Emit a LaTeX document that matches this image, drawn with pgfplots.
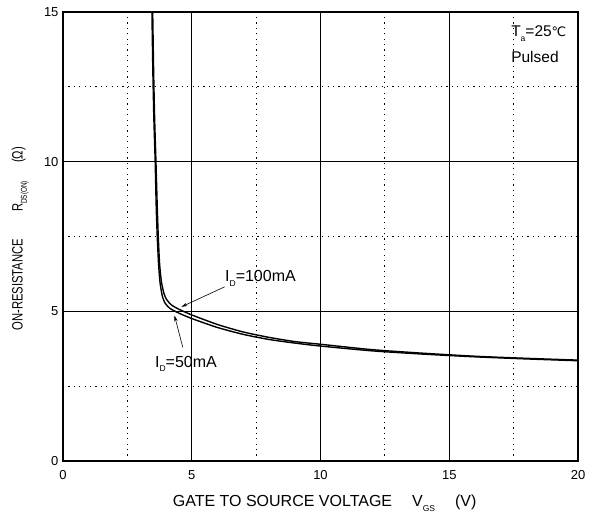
\documentclass[border=0pt]{standalone}
\usepackage{fontspec}
\setmainfont{Liberation Sans}
\newfontfamily\dejavu{DejaVu Sans}
\usepackage{pgfplots}
\pgfplotsset{compat=1.18}
\usetikzlibrary{arrows.meta}

\newcommand{\sub}[1]{\raisebox{-0.55ex}{\fontsize{8.5}{9}\selectfont #1}}

\begin{document}
\begin{tikzpicture}
\begin{axis}[
    scale only axis,
    width=515pt, height=449pt,
    xmin=0, xmax=20, ymin=0, ymax=15,
    xtick={0,5,10,15,20}, ytick={0,5,10,15},
    minor xtick={2.5,7.5,12.5,17.5}, minor ytick={2.5,7.5,12.5},
    grid=both,
    major grid style={black, line width=0.9pt},
    minor grid style={black, line width=1pt, dash pattern=on 1.2pt off 4.2pt},
    major tick length=0pt, minor tick length=0pt,
    axis line style={line width=1.2pt},
    tick label style={font=\fontsize{13}{15}\selectfont},
    /pgf/number format/assume math mode=true,
    xticklabel style={yshift=-6pt},
    yticklabel style={xshift=-1pt},
    xlabel={GATE TO SOURCE VOLTAGE\hspace{20pt}V\sub{GS}\hspace{20pt}(V)},
    ylabel={\scalebox{0.75}[1]{ON-RESISTANCE\hspace{36pt}R\sub{DS(ON)}\hspace{24pt}(Ω)}},
    xlabel style={font=\fontsize{16}{18}\selectfont, at={(axis description cs:0.508,-0.068)}, anchor=north},
    ylabel style={font=\fontsize{15}{17}\selectfont, at={(axis description cs:-0.083,0.495)}, anchor=center},
    clip=true,
]
% I_D = 100 mA
\addplot[black, line width=1.4pt, smooth, tension=0.4] coordinates {
 (3.48,15.2) (3.52,13) (3.56,11.4) (3.61,10) (3.66,8.5) (3.7,7.5) (3.75,6.6)
 (3.82,6.0) (3.92,5.6) (4.02,5.4) (4.2,5.22) (4.5,5.07) (5,4.88) (6,4.56)
 (7,4.31) (8,4.13) (9,3.99) (10,3.9) (12,3.72) (14,3.6) (16,3.5) (18,3.43) (20,3.37)};
% I_D = 50 mA
\addplot[black, line width=1.4pt, smooth, tension=0.4] coordinates {
 (3.45,15.2) (3.49,13) (3.53,11.4) (3.58,10) (3.62,8.5) (3.66,7.5) (3.71,6.6)
 (3.77,5.95) (3.86,5.5) (3.96,5.28) (4.15,5.1) (4.5,4.94) (5,4.76) (6,4.46)
 (7,4.23) (8,4.06) (9,3.94) (10,3.84) (12,3.68) (14,3.57) (16,3.48) (18,3.41) (20,3.35)};

\draw[-{Stealth[length=6pt,width=3.5pt]}, line width=0.6pt] (axis cs:6.28,5.82) -- (axis cs:4.6,5.15);
\node[anchor=base west, font=\fontsize{16}{18}\selectfont, inner sep=0pt] at (axis cs:6.29,5.98) {I\sub{D}=100mA};
\draw[-{Stealth[length=6pt,width=3.5pt]}, line width=0.6pt] (axis cs:4.65,3.8) -- (axis cs:4.33,4.86);
\node[anchor=base west, font=\fontsize{16}{18}\selectfont, inner sep=0pt] at (axis cs:3.57,3.14) {I\sub{D}=50mA};

\node[font=\fontsize{15.5}{17}\selectfont, anchor=base west, inner sep=0pt] at (axis cs:17.4,14.17) {T\sub{a}=25{\dejavu\fontsize{13}{14}\selectfont ℃}};
\node[font=\fontsize{15.5}{17}\selectfont, anchor=base west, inner sep=0pt] at (axis cs:17.4,13.3) {Pulsed};
\end{axis}
\path (current axis.south west) ++(-63pt,-56pt) rectangle ++(600pt,517pt);
\end{tikzpicture}
\end{document}
